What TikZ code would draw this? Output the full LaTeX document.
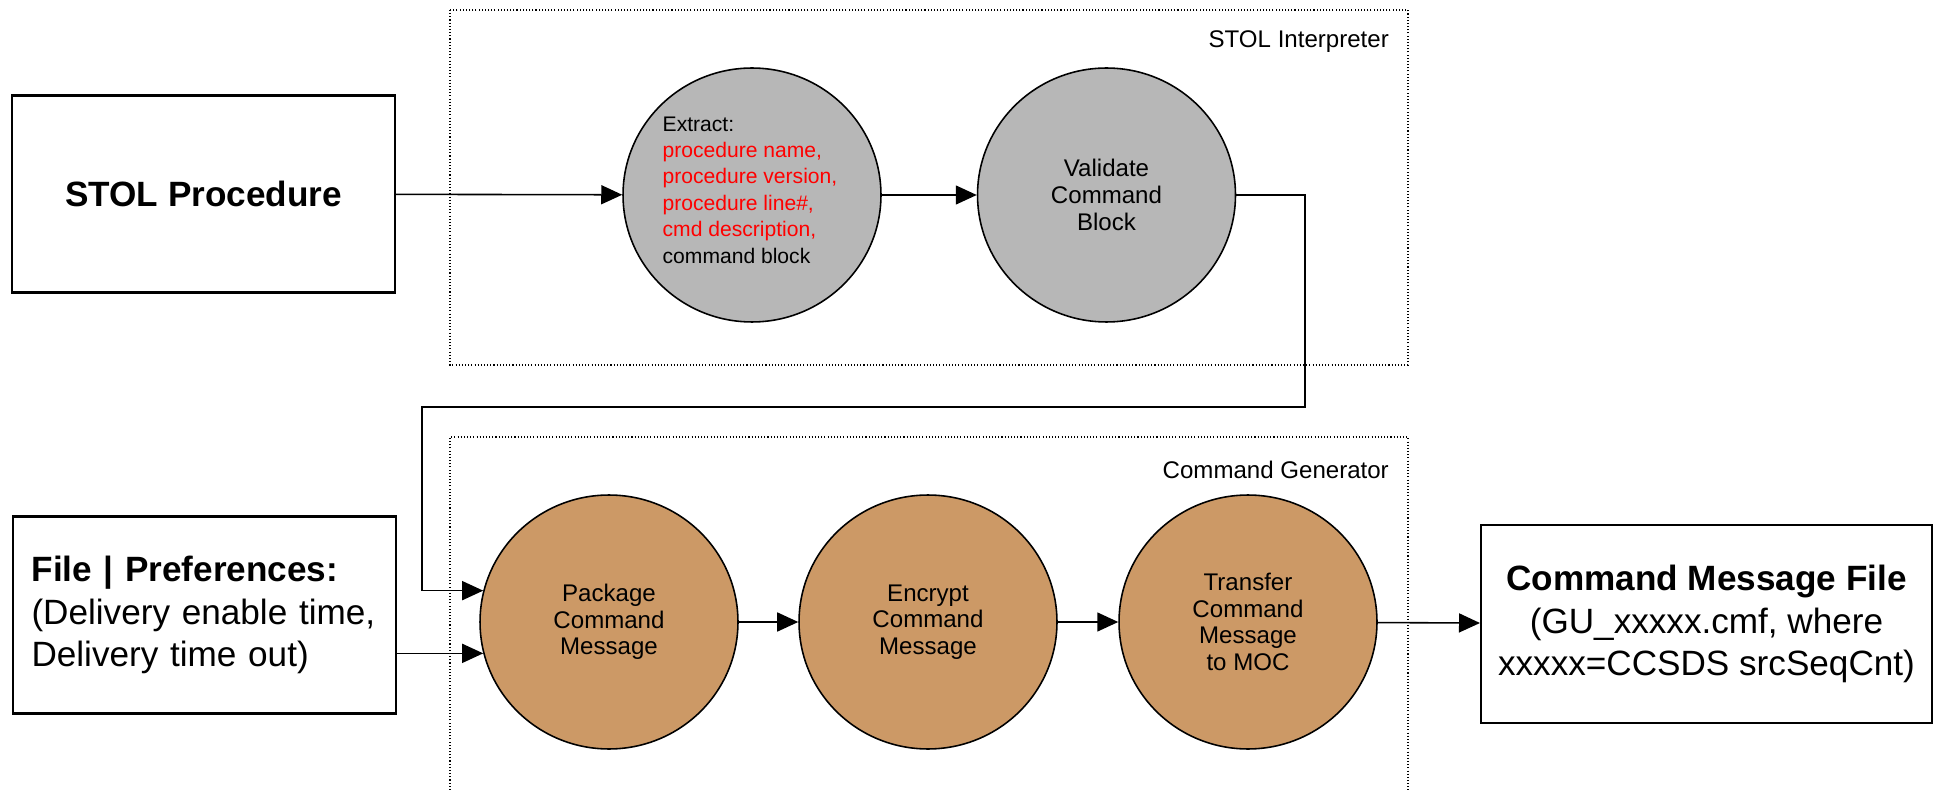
\documentclass[tikz,border=0pt]{standalone}
\usepackage{fontspec}
\setmainfont{Liberation Sans}
\usetikzlibrary{shapes.geometric,arrows.meta}
\definecolor{gris}{RGB}{183,183,183}
\definecolor{brun}{RGB}{204,153,102}
\tikzset{
  boite/.style={draw, line width=1.2pt, minimum width=7.66cm, minimum height=3.94cm, font=\fontsize{20}{24}\selectfont},
  rond/.style={ellipse, draw, line width=0.9pt, minimum width=5.16cm, minimum height=5.08cm, align=center, font=\fontsize{13.7}{15.2}\selectfont},
  cadre/.style={line width=0.6pt, dash pattern=on 0.6pt off 1.2pt},
  fleche/.style={-{Triangle[length=0.42cm,width=0.38cm]}, line width=0.9pt},
  titre/.style={anchor=east, font=\fontsize{13.7}{15.2}\selectfont}
}
\begin{document}
\begin{tikzpicture}[x=0.02cm, y=-0.02cm]
    \useasboundingbox (0,0) rectangle (1934,790);

    % Les deux cadres en pointillés
    \draw[cadre] (450,10) rectangle (1408,365);
    \draw[cadre] (450,790) |- (1408,437) -- (1408,790);
    \node[titre] (interp) at (1395,42) {STOL Interpreter};
    \node[titre] (gener) at (1395,470) {Command Generator};

    % Les boîtes
    \node[boite, font=\fontsize{20}{24}\selectfont\bfseries] (stol) at (203.5,194) {STOL Procedure};
    \node[boite, align=left, text width=6.92cm, inner sep=0pt] (prefs) at (204.5,615)
        {{\bfseries File | Preferences:}\\(Delivery enable time,\\Delivery time out)};
    \node[boite, align=center, minimum width=9.02cm, minimum height=3.96cm, inner sep=0pt] (cmdfile) at (1706.5,624)
        {{\bfseries Command Message File}\\(GU\_xxxxx.cmf, where\\xxxxx=CCSDS srcSeqCnt)};

    % Les ronds gris (le texte d'Extract est posé par-dessus)
    \node[rond, fill=gris] (extract) at (752,195) {};
    \node[align=left, font=\fontsize{12}{15}\selectfont] (extracttxt) at (750,190)
        {Extract:\\\textcolor{red}{procedure name,}\\\textcolor{red}{procedure version,}\\\textcolor{red}{procedure line\#,}\\\textcolor{red}{cmd description,}\\command block};
    \node[rond, fill=gris] (validate) at (1106.5,195) {Validate\\Command\\Block};

    % Les ronds bruns
    \node[rond, fill=brun] (package) at (609,622) {Package\\Command\\Message};
    \node[rond, fill=brun] (encrypt) at (928,622) {Encrypt\\Command\\Message};
    \node[rond, fill=brun] (transfer) at (1248,622) {Transfer\\Command\\Message\\to MOC};

    % Les flèches
    \draw[fleche] (stol) -- (extract);
    \draw[fleche] (extract) -- (validate);
    \coordinate (coude1) at (1305,407);
    \coordinate (coude2) at (422,407);
    \draw[fleche] (validate.east) -- (validate.east -| coude1) -- (coude1) -- (coude2)
        -- (coude2 |- package.166) -- (package.166);
    \draw[fleche] (prefs.east |- package.194) -- (package.194);
    \foreach \a/\b in {package/encrypt, encrypt/transfer}
        \draw[fleche] (\a) -- (\b);
    \draw[fleche] (transfer) -- (cmdfile);
\end{tikzpicture}
\end{document}
